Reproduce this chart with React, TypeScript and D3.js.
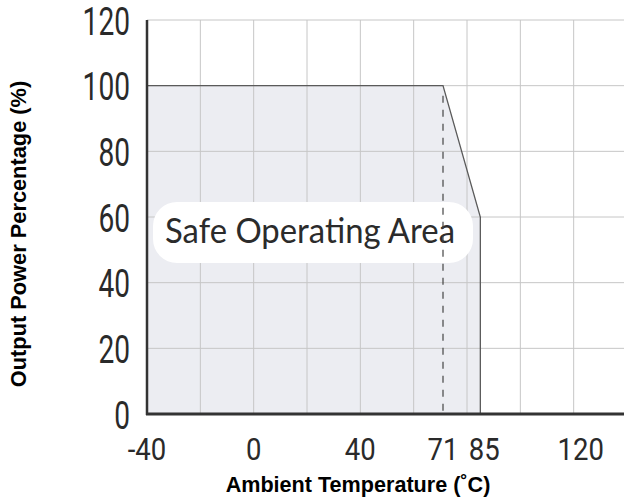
import React from 'react';
import * as d3 from 'd3';

const tempTicks = [-40, 0, 40, 71, 85, 120];
const powerTicks = [0, 20, 40, 60, 80, 100, 120];
const gridTemps = [-20, 0, 20, 40, 60, 80, 100, 120, 140];
const curveTemps = [-40, 71, 85, 85];
const curvePower = [100, 100, 60, 0];
const labelShift: Record<number, number> = { 85: 4, 120: 7 };

const App = () => {
  const width = 624;
  const height = 501;
  const left = 147;
  const top = 20;
  const bottom = 414;

  const x = d3.scaleLinear().domain([-40, 140]).range([left, 627]);
  const y = d3.scaleLinear().domain([0, 120]).range([bottom, top]);

  const pts: [number, number][] = curveTemps.map((t, i) => [t, curvePower[i]]);

  const area = d3
    .area<[number, number]>()
    .x(d => x(d[0]))
    .y0(y(0))
    .y1(d => y(d[1]));

  const line = d3
    .line<[number, number]>()
    .x(d => x(d[0]))
    .y(d => y(d[1]));

  const digitFont = "Roboto, 'Liberation Sans', sans-serif";

  return (
    <svg
      width={width}
      height={height}
      style={{ position: 'absolute', left: 0, top: 0, background: '#fff' }}
    >
      <path d={area(pts) as string} fill="#ecedf2" />

      {/* grid */}
      <g stroke="#c6c6c6" strokeWidth={1}>
        {gridTemps.map(t => (
          <line key={'gx' + t} x1={x(t)} x2={x(t)} y1={y(120)} y2={y(0)} />
        ))}
        {powerTicks.filter(p => p > 0).map(p => (
          <line key={'gy' + p} x1={left} x2={width} y1={y(p)} y2={y(p)} />
        ))}
      </g>

      {/* label pill */}
      <rect x={153} y={202} width={320} height={61} rx={24} fill="#fff" />
      <text
        x={165}
        y={243}
        fontFamily="Lato, 'DejaVu Sans', sans-serif"
        fontSize={35}
        fill="#2b2b2b"
        textLength={290}
        lengthAdjust="spacingAndGlyphs"
      >
        Safe Operating Area
      </text>

      {/* derating curve */}
      <path d={line(pts) as string} fill="none" stroke="#5a5a5a" strokeWidth={1.3} />
      <line
        x1={x(71)}
        x2={x(71)}
        y1={y(100) + 10}
        y2={y(0)}
        stroke="#444"
        strokeWidth={1.2}
        strokeDasharray="7,7"
      />

      {/* axes */}
      <line x1={left} x2={left} y1={top} y2={bottom + 1} stroke="#333" strokeWidth={2.5} />
      <line x1={left - 1} x2={width} y1={bottom} y2={bottom} stroke="#333" strokeWidth={3} />

      {powerTicks.map(p => (
        <text
          key={'py' + p}
          transform={`translate(130,${y(p) + 1}) scale(0.74,1)`}
          dy="0.36em"
          textAnchor="end"
          fontFamily={digitFont}
          fontSize={38}
          fill="#2a2a2a"
        >
          {p}
        </text>
      ))}

      {tempTicks.map(t => (
        <text
          key={'tx' + t}
          transform={`translate(${x(t) + (labelShift[t] || 0)},460) scale(0.86,1)`}
          textAnchor="middle"
          fontFamily={digitFont}
          fontSize={32}
          fill="#2a2a2a"
        >
          {t}
        </text>
      ))}

      <text
        x={358}
        y={492}
        textAnchor="middle"
        fontFamily="'Liberation Sans', Arial, sans-serif"
        fontWeight="bold"
        fontSize={21.6}
        fill="#000"
      >
        Ambient Temperature (˚C)
      </text>
      <text
        transform="translate(26,234) rotate(-90)"
        textAnchor="middle"
        fontFamily="'Liberation Sans', Arial, sans-serif"
        fontWeight="bold"
        fontSize={21.8}
        fill="#000"
      >
        Output Power Percentage (%)
      </text>
    </svg>
  );
};

export default App;
